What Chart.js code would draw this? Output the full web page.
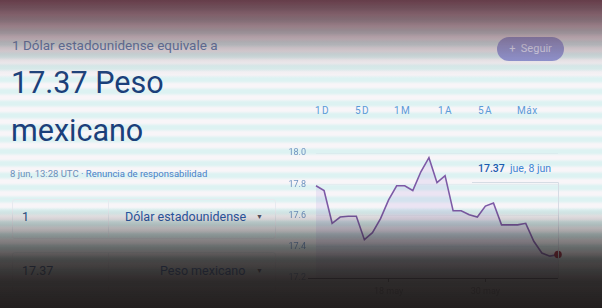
<!DOCTYPE html>
<html>
<head>
<meta charset="utf-8">
<script src="https://cdn.jsdelivr.net/npm/chart.js@4.4.0/dist/chart.umd.min.js"></script>
<style>
  html,body{margin:0;padding:0;}
  body{width:602px;height:308px;position:relative;overflow:hidden;font-family:Roboto,Arial,sans-serif;
    background:repeating-linear-gradient(180deg,#f8f5f8 0px,#f8f5f8 3px,#ddf2f2 6px,#ddf2f2 9px,#f8f5f8 12px);}
  .abs{position:absolute;white-space:nowrap;}
  #head{left:12px;top:37px;font-size:13.5px;color:#4a6fa8;}
  #big1{left:11px;top:65px;font-size:30.5px;color:#1b3f7a;}
  #big2{left:11px;top:113px;font-size:30.5px;color:#1b3f7a;}
  #stamp{left:10px;top:168px;font-size:9.5px;color:#4a80c8;}
  #stamp .g{color:#6d8fba;}
  .box{position:absolute;border:1px solid #e6eaef;border-radius:3px;}
  .val{font-size:12.5px;color:#2a4f86;}
  .cur{font-size:12.5px;color:#2a5aa8;}
  .arr{font-size:7px;color:#556;}
  .tab{top:105px;font-size:10px;letter-spacing:1.5px;color:#5a9ad8;}
  #btn{left:497px;top:37px;width:67px;height:24px;border-radius:12px;background:#8d92d6;color:#e6e8ff;font-size:11px;line-height:24px;text-align:center;}
  #tip{left:478px;top:162px;font-size:10.5px;}
  #tip b{font-weight:500;color:#1a5bb0;}
  #tip span{color:#3f86d4;}
  #cwrap{position:absolute;left:283px;top:140px;width:285px;height:165px;}
  #shade{position:absolute;left:0;top:0;width:602px;height:308px;pointer-events:none;
    background:linear-gradient(180deg,
      rgba(88,45,58,0.92) 0px,
      rgba(100,62,74,0.72) 22px,
      rgba(120,95,105,0.42) 45px,
      rgba(150,140,145,0.15) 62px,
      rgba(255,255,255,0) 78px,
      rgba(255,255,255,0) 208px,
      rgba(30,26,26,0.17) 220px,
      rgba(30,26,26,0.52) 240px,
      rgba(30,26,26,0.80) 260px,
      rgba(30,26,26,0.92) 280px,
      rgba(30,26,26,0.98) 308px);}
</style>
</head>
<body>
<div class="abs" id="head">1 Dólar estadounidense equivale a</div>
<div class="abs" id="big1">17.37 Peso</div>
<div class="abs" id="big2">mexicano</div>
<div class="abs" id="stamp"><span class="g">8 jun, 13:28 UTC</span> · Renuncia de responsabilidad</div>

<div class="box" style="left:12px;top:199px;width:262px;height:38px;"></div>
<div class="box" style="left:108px;top:199px;width:0;height:38px;border-width:0 0 0 1px;border-radius:0"></div>
<div class="abs val" style="left:22px;top:209px;">1</div>
<div class="abs cur" style="left:125px;top:209px;">Dólar estadounidense</div>
<div class="abs arr" style="left:256px;top:213px;">▼</div>

<div class="box" style="left:12px;top:252px;width:262px;height:38px;"></div>
<div class="box" style="left:108px;top:252px;width:0;height:38px;border-width:0 0 0 1px;border-radius:0"></div>
<div class="abs val" style="left:22px;top:263px;">17.37</div>
<div class="abs cur" style="left:160px;top:263px;">Peso mexicano</div>
<div class="abs arr" style="left:256px;top:267px;">▼</div>

<div class="abs tab" style="left:315px;">1D</div>
<div class="abs tab" style="left:355px;">5D</div>
<div class="abs tab" style="left:394px;">1M</div>
<div class="abs tab" style="left:438px;">1A</div>
<div class="abs tab" style="left:478px;">5A</div>
<div class="abs tab" style="left:517px;letter-spacing:0.5px;">Máx</div>

<div class="abs" id="btn">+&nbsp; Seguir</div>
<div class="abs" id="tip"><b>17.37</b>&nbsp; <span>jue, 8 jun</span></div>

<div id="cwrap"><canvas id="c"></canvas></div>
<div id="shade"></div>

<script>
const dates = ['9 may','10 may','11 may','12 may','13 may','14 may','15 may','16 may','17 may','18 may',
  '19 may','20 may','21 may','22 may','23 may','24 may','25 may','26 may','27 may','28 may','29 may',
  '30 may','31 may','1 jun','2 jun','3 jun','4 jun','5 jun','6 jun','7 jun','8 jun'];
const rates = [17.79,17.76,17.55,17.59,17.595,17.595,17.445,17.49,17.58,17.70,
  17.79,17.79,17.76,17.88,17.97,17.81,17.855,17.63,17.63,17.605,17.59,
  17.66,17.68,17.54,17.54,17.54,17.55,17.435,17.36,17.34,17.35];
const shownDates = ['18 may','30 may'];
const yTicks = [17.2,17.4,17.6,17.8,18.0];

const last = rates.length - 1;

const hoverPlugin = {
  id:'hover',
  afterDatasetsDraw(chart){
    const {ctx, chartArea, scales} = chart;
    const x = scales.x.getPixelForValue(last);
    const yTop = chartArea.top + 29;
    ctx.save();
    ctx.strokeStyle = '#d6dce4';
    ctx.lineWidth = 1;
    ctx.beginPath();
    ctx.moveTo(x - 86, yTop + 0.5);
    ctx.lineTo(x + 0.5, yTop + 0.5);
    ctx.lineTo(x + 0.5, chartArea.bottom);
    ctx.stroke();
    ctx.restore();
  }
};

new Chart(document.getElementById('c'), {
  type:'line',
  data:{
    labels: dates,
    datasets:[{
      data: rates,
      borderColor:'#7d5aa6',
      borderWidth:1.6,
      backgroundColor:'rgba(170,140,215,0.16)',
      fill:'start',
      tension:0,
      clip:false,
      pointRadius: c => c.dataIndex === last ? 3.8 : 0,
      pointBackgroundColor:'#9a2035',
      pointBorderWidth:0
    }]
  },
  options:{
    responsive:true,
    maintainAspectRatio:false,
    animation:false,
    layout:{padding:{top:13,right:10,left:0,bottom:0}},
    plugins:{legend:{display:false},tooltip:{enabled:false}},
    scales:{
      x:{
        offset:false,
        border:{display:false},
        afterFit: s => { s.height = 27; },
        grid:{
          drawOnChartArea:false,
          tickLength:4,
          color: c => (c.tick && shownDates.includes(dates[c.tick.value])) ? '#5d6470' : 'rgba(0,0,0,0)'
        },
        ticks:{
          autoSkip:false,
          maxRotation:0,
          padding:4,
          color:'#7a7f88',
          font:{size:9,family:'Roboto'},
          callback:(v,i) => shownDates.includes(dates[i]) ? dates[i] : ''
        }
      },
      y:{
        min:17.2, max:18.0,
        afterFit: s => { s.width = 33; },
        afterBuildTicks: s => { s.ticks = yTicks.map(v => ({value:v})); },
        border:{display:false},
        grid:{
          color: c => (c.tick && Math.abs(c.tick.value-17.2)<1e-6) ? '#4f5868' : 'rgba(120,140,170,0.06)',
          tickColor: c => (c.tick && Math.abs(c.tick.value-17.2)<1e-6) ? '#4f5868' : 'rgba(0,0,0,0)',
          tickLength:8,
          lineWidth:1
        },
        ticks:{
          padding:2,
          color:'#6f93c0',
          font:{size:9,family:'Roboto'},
          callback: v => Number(v).toFixed(1)
        }
      }
    }
  },
  plugins:[hoverPlugin]
});
</script>
</body>
</html>
